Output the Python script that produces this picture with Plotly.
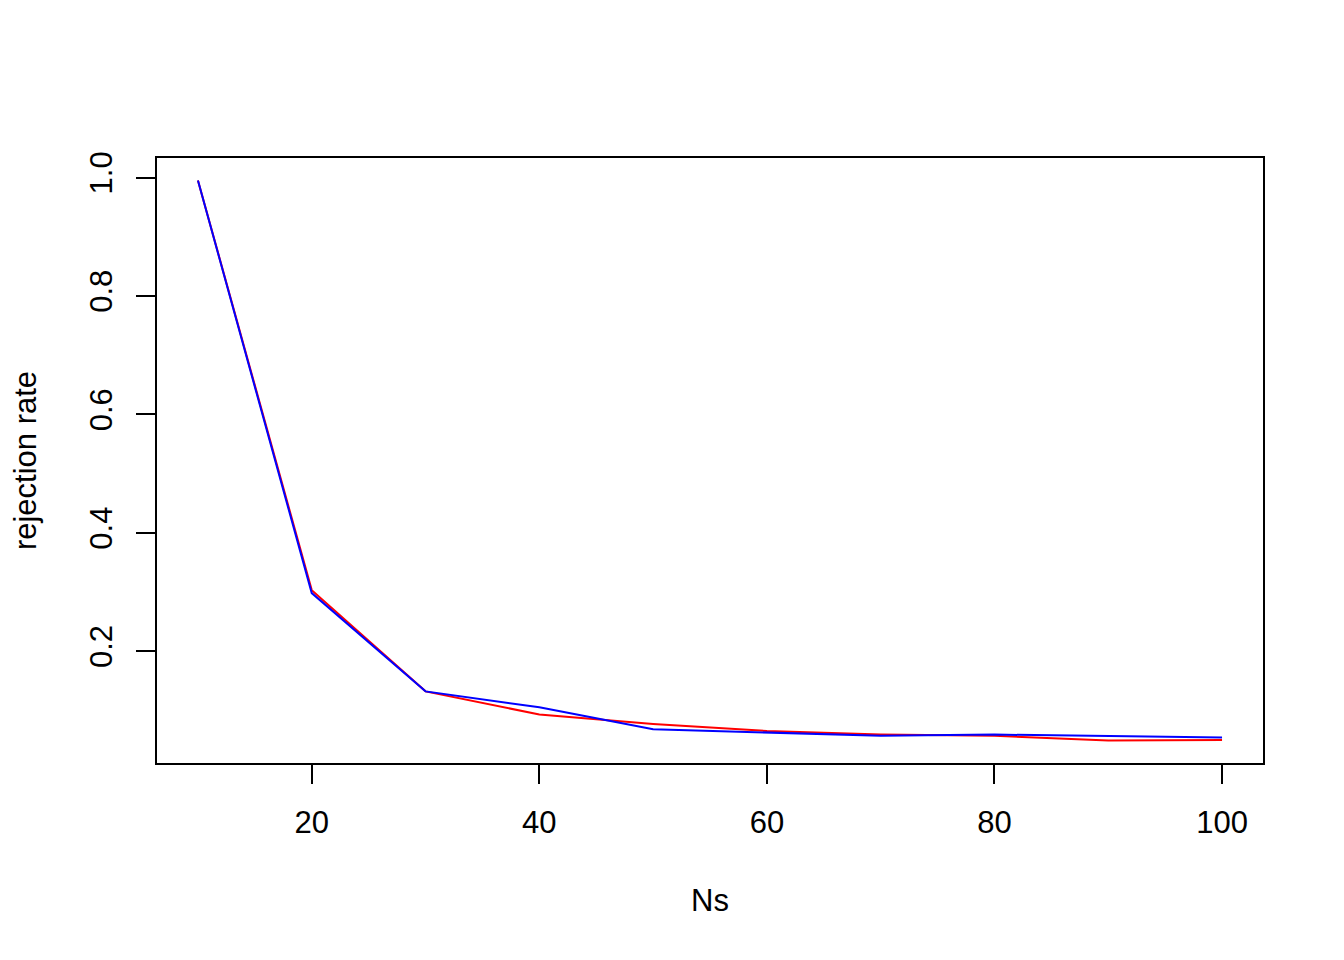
import plotly.graph_objects as go

Ns = [10, 20, 30, 40, 50, 60, 70, 80, 90, 100]
rate_red = [0.995, 0.303, 0.132, 0.093, 0.077, 0.065, 0.059, 0.057, 0.049, 0.050]
rate_blue = [0.995, 0.298, 0.132, 0.105, 0.068, 0.063, 0.057, 0.059, 0.056, 0.054]
x_ticks = [20, 40, 60, 80, 100]
y_ticks = [0.2, 0.4, 0.6, 0.8, 1.0]
y_tick_labels = ["0.2", "0.4", "0.6", "0.8", "1.0"]

FONT = "Liberation Sans, Arial, sans-serif"

fig = go.Figure()
fig.add_trace(go.Scatter(x=Ns, y=rate_red, mode="lines",
                         line=dict(color="#FF0000", width=2), showlegend=False))
fig.add_trace(go.Scatter(x=Ns, y=rate_blue, mode="lines",
                         line=dict(color="#0000FF", width=2), showlegend=False))

fig.update_layout(
    width=1336, height=952,
    margin=dict(l=149, r=81, t=150, b=197, autoexpand=False),
    paper_bgcolor="white", plot_bgcolor="white",
    font=dict(family=FONT, size=31, color="black"),
    xaxis=dict(
        range=[6.4, 103.6], tickvals=x_ticks, ticks="outside", ticklen=19,
        tickwidth=2, tickcolor="black", showgrid=False, zeroline=False,
        showline=True, linecolor="black", linewidth=2, mirror=True,
        tickfont=dict(size=31), ticklabelstandoff=12,
        title=dict(text="Ns", font=dict(size=31), standoff=50),
    ),
    yaxis=dict(
        range=[0.011, 1.033], tickvals=y_ticks, ticktext=y_tick_labels,
        ticks="outside", ticklen=19, tickwidth=2, tickcolor="black",
        tickangle=-90, showgrid=False, zeroline=False,
        showline=True, linecolor="black", linewidth=2, mirror=True,
        tickfont=dict(size=31), ticklabelstandoff=12,
        title=dict(text="rejection rate", font=dict(size=31), standoff=40),
    ),
)

fig.write_html("out.html")
